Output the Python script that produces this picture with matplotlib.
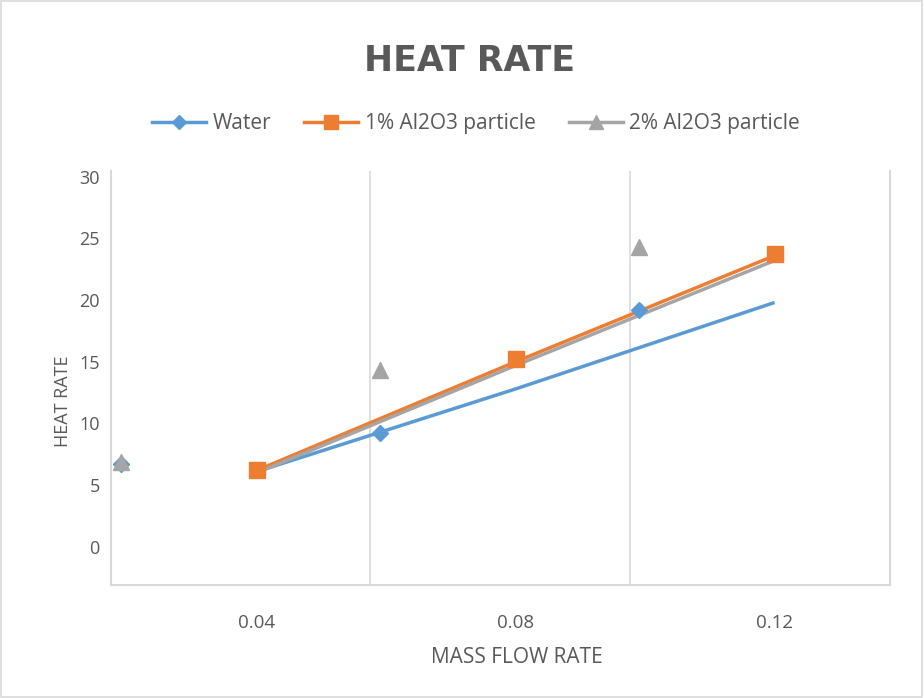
import matplotlib
matplotlib.use("Agg")
import matplotlib.pyplot as plt
from matplotlib.lines import Line2D
from matplotlib.patches import Rectangle

# trend lines (drawn at the three labelled flow rates)
line_x = [0.04, 0.08, 0.12]
water_line = [6.1, 12.8, 19.8]
al1_line = [6.2, 15.0, 23.6]
al2_line = [6.0, 14.7, 23.2]

# marker points
water_pts_x = [0.019, 0.059, 0.099]
water_pts_y = [6.7, 9.2, 19.2]
al1_pts_x = [0.04, 0.08, 0.12]
al1_pts_y = [6.2, 15.2, 23.7]
al2_pts_x = [0.019, 0.059, 0.099]
al2_pts_y = [6.9, 14.3, 24.3]

xtick_vals = [0.04, 0.08, 0.12]
xtick_labels = ["0.04", "0.08", "0.12"]
grid_x = [0.0575, 0.0976]
yticks = [0, 5, 10, 15, 20, 25, 30]

BLUE = "#5B9BD5"
ORANGE = "#ED7D31"
GRAY = "#A5A5A5"
TXT = "#595959"
GRID = "#D9D9D9"

plt.rcParams['font.family'] = ['Open Sans', 'DejaVu Sans']

fig = plt.figure(figsize=(9.24, 6.98), dpi=100)
ax = fig.add_axes([0.120, 0.162, 0.843, 0.593])

ax.plot(line_x, water_line, color=BLUE, lw=2.5, solid_capstyle='butt', zorder=3)
ax.plot(line_x, al1_line, color=ORANGE, lw=2.5, solid_capstyle='butt', zorder=3)
ax.plot(line_x, al2_line, color=GRAY, lw=2.5, solid_capstyle='butt', zorder=4)

ax.plot(water_pts_x, water_pts_y, ls='none', marker='D', ms=8, color=BLUE, zorder=5)
ax.plot(al1_pts_x, al1_pts_y, ls='none', marker='s', ms=11, color=ORANGE, zorder=5)
ax.plot(al2_pts_x, al2_pts_y, ls='none', marker='^', ms=11, color=GRAY, zorder=6)

ax.set_xlim(0.01745, 0.1378)
ax.set_ylim(-3.08, 30.45)
for gx in grid_x:
    ax.axvline(gx, color=GRID, lw=1.2, zorder=1)

for s in ['left', 'right', 'bottom']:
    ax.spines[s].set_color(GRID)
    ax.spines[s].set_linewidth(1.5)
ax.spines['top'].set_visible(False)

ax.set_xticks(xtick_vals)
ax.set_xticklabels(xtick_labels)
ax.set_yticks(yticks)
ax.tick_params(axis='x', length=0, pad=21, labelsize=13.5, labelcolor=TXT)
ax.tick_params(axis='y', length=0, pad=8, labelsize=13, labelcolor=TXT)

ax.set_xlabel("MASS FLOW RATE", fontsize=15, color=TXT)
ax.set_ylabel("HEAT RATE", fontsize=13, color=TXT)
ax.xaxis.set_label_coords(0.521, -0.15)
ax.yaxis.set_label_coords(-0.05, 0.444)

fig.text(0.508, 0.913, "HEAT RATE", ha='center', va='center', fontsize=25,
         fontweight='bold', color=TXT, family='DejaVu Sans')

handles = [
    Line2D([], [], color=BLUE, lw=2.5, marker='D', ms=7),
    Line2D([], [], color=ORANGE, lw=2.5, marker='s', ms=10),
    Line2D([], [], color=GRAY, lw=2.5, marker='^', ms=10),
]
fig.legend(handles, ["Water", "1% Al2O3 particle", "2% Al2O3 particle"],
           loc='center', bbox_to_anchor=(0.515, 0.823), ncol=3, frameon=False,
           fontsize=15, labelcolor=TXT, handlelength=2.6, handletextpad=0.3,
           columnspacing=1.6)

fig.add_artist(Rectangle((0.001, 0.001), 0.997, 0.997, transform=fig.transFigure,
                         fill=False, edgecolor=GRID, lw=1.2))

fig.savefig("out.png", dpi=100)
